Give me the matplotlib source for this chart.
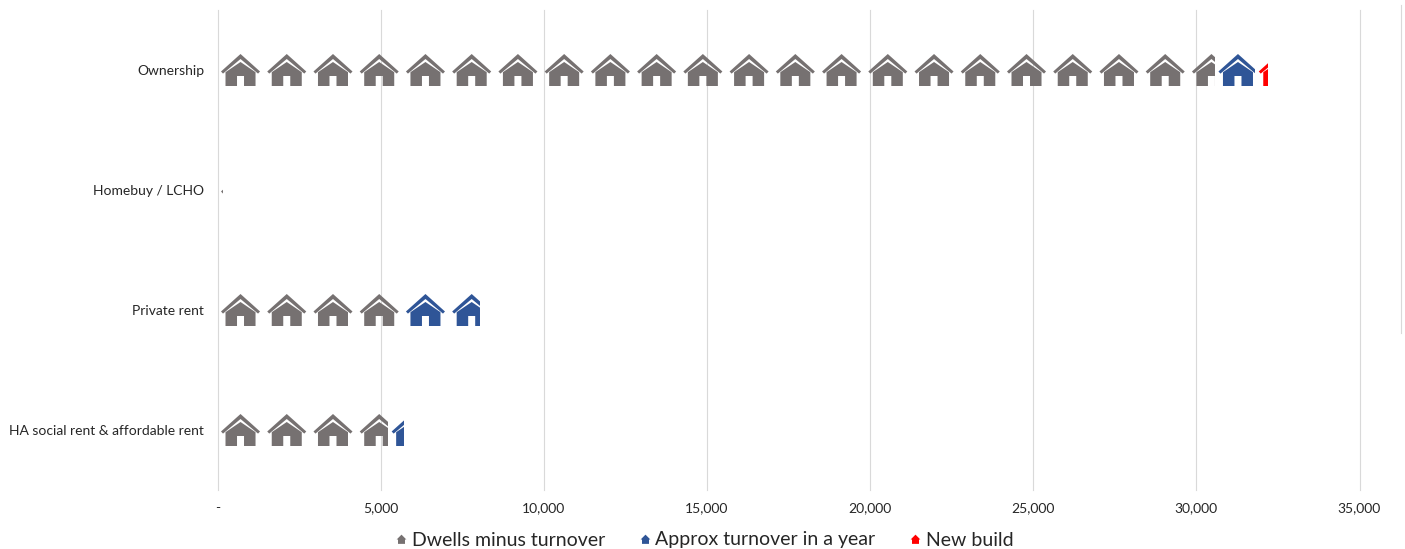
import matplotlib
matplotlib.use('Agg')
import matplotlib.pyplot as plt
from matplotlib.lines import Line2D
from matplotlib.patches import PathPatch
from matplotlib.path import Path

plt.rcParams['font.family'] = ['Lato', 'DejaVu Sans']

categories = ['Ownership', 'Homebuy / LCHO', 'Private rent', 'HA social rent & affordable rent']
dwells_minus_turnover = [30570, 170, 5668, 5230]
approx_turnover = [1235, 0, 2384, 490]
new_build = [385, 0, 0, 0]
x_ticks = [0, 5000, 10000, 15000, 20000, 25000, 30000, 35000]
x_labels = ['-', '5,000', '10,000', '15,000', '20,000', '25,000', '30,000', '35,000']

series_names = ['Dwells minus turnover', 'Approx turnover in a year', 'New build']
series_colors = ['#767171', '#2F5597', '#FF0000']

# dwellings represented by one house picture
UNIT = 1417
CELL_W = 46.2
BAND_H = 120.0

# house outlines in pixels: x from the left of a picture cell, y from the bar centre
roof_pts = [(3.5, 1.5), (23, -16), (42.5, 1.5), (40.5, 3.6), (23, -11), (5.5, 3.6)]
body_pts = [(8, 2.2), (23, -8), (38, 2.2), (38, 16), (26.5, 16), (26.5, 6),
            (19.5, 6), (19.5, 16), (8, 16)]


def house_patch(pts, left, centre, color):
    verts = [(left + px / CELL_W * UNIT, centre + py / BAND_H) for px, py in pts]
    verts.append(verts[0])
    codes = [Path.MOVETO] + [Path.LINETO] * (len(pts) - 1) + [Path.CLOSEPOLY]
    return PathPatch(Path(verts, codes), facecolor=color, edgecolor='none')


fig = plt.figure(figsize=(14.05, 5.49), dpi=100)
ax = fig.add_axes([217.5 / 1405, 1 - 490 / 549, (1359.5 - 217.5) / 1405, 480 / 549])
ax.set_xlim(0, 35000)
ax.set_ylim(3.5, -0.5)

# stacked bars are invisible, they only cut the rows of houses to length
lefts = [0] * len(categories)
for values, color in zip([dwells_minus_turnover, approx_turnover, new_build], series_colors):
    bars = ax.barh(range(len(categories)), values, left=lefts, height=0.4, color='none', zorder=3)
    for i, (val, bar) in enumerate(zip(values, bars)):
        k = 0
        while k * UNIT < val:
            for pts in (roof_pts, body_pts):
                p = house_patch(pts, lefts[i] + k * UNIT, i, color)
                p.set_zorder(3)
                ax.add_patch(p)
                p.set_clip_path(bar)
            k += 1
        lefts[i] += val

ax.set_xticks(x_ticks)
ax.set_xticklabels(x_labels, fontsize=10, color='#262626')
ax.set_yticks(range(len(categories)))
ax.set_yticklabels(categories, fontsize=10, color='#262626')
ax.tick_params(length=0)
ax.tick_params(axis='x', pad=9)
ax.tick_params(axis='y', pad=9.5)
ax.grid(axis='x', color='#D9D9D9', linewidth=0.8, clip_on=False)
ax.set_axisbelow(True)
for s in ax.spines.values():
    s.set_visible(False)

# thin frame line on the right of the chart area
fig.add_artist(Line2D([1400.5 / 1405] * 2, [1 - 5 / 549, 1 - 333 / 549], color='#D9D9D9', linewidth=0.8))

house_marker = Path([(0, 1), (1, 0), (0.72, 0), (0.72, -0.9), (-0.72, -0.9), (-0.72, 0), (-1, 0), (0, 1)],
                    [Path.MOVETO] + [Path.LINETO] * 6 + [Path.CLOSEPOLY])
handles = [Line2D([], [], linestyle='none', marker=house_marker, markersize=7, color=c,
                  markeredgewidth=0, label=n) for n, c in zip(series_names, series_colors)]
fig.legend(handles=handles, loc='center', bbox_to_anchor=(702.5 / 1405, 1 - 540 / 549), ncol=3, frameon=False,
           fontsize=14, handlelength=1, handletextpad=0.05, columnspacing=1.53, borderpad=0, labelcolor='#262626')

fig.savefig('out.png', dpi=100)
